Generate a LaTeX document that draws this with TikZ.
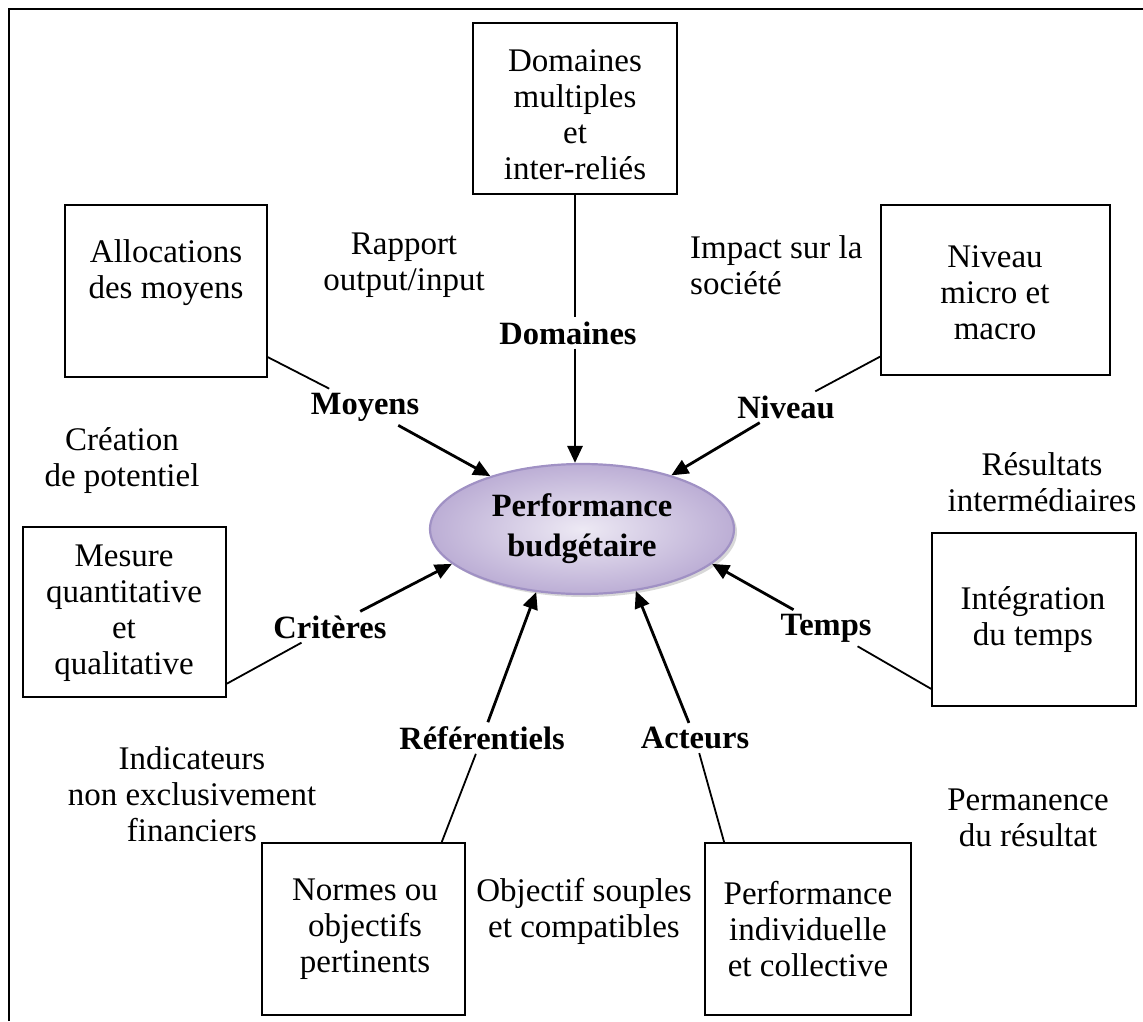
\documentclass[tikz,border=0pt]{standalone}
\usepackage{fontspec}
\setmainfont{Liberation Serif}
\usetikzlibrary{arrows.meta,shapes.geometric,shadows}

\definecolor{ellfill}{RGB}{237,233,244}
\definecolor{elledge}{RGB}{188,174,213}
\definecolor{ellline}{RGB}{160,145,196}

\begin{document}
\begin{tikzpicture}[x=1pt,y=-1pt,
  every node/.style={font=\fontsize{33}{36}\selectfont, align=center, inner sep=0pt},
  box/.style={draw, line width=1.7pt},
  lab/.style={font=\fontsize{32.5}{36}\selectfont\bfseries, inner sep=4pt},
  lnk/.style={line width=1.8pt},
  arr/.style={line width=2.8pt, -{Triangle[length=17pt,width=15pt]}}]

\useasboundingbox (0,0) rectangle (1143,1021);

% outer frame (open at the bottom and on the right)
\draw[line width=2.8pt] (9,1021) -- (9,9) -- (1143,9);

% central ellipse
\node[ellipse, minimum width=304pt, minimum height=130pt, draw=ellline, line width=2.2pt,
      inner color=ellfill, outer color=elledge,
      drop shadow={shadow xshift=3pt, shadow yshift=-3pt, fill=black!30},
      font=\fontsize{32.5}{40}\selectfont\bfseries] (perf) at (582,529) {Performance\\budgétaire};

% surrounding boxes
\node[box, minimum width=204pt, minimum height=171pt] (bDom) at (575,108.5) {};
\node (tDom) at (575,115) {Domaines\\multiples\\et\\inter-reliés};

\node[box, minimum width=202pt, minimum height=172pt] (bAll) at (166,291) {};
\node (tAll) at (166,272.5) {Allocations\\des moyens};

\node[box, minimum width=229pt, minimum height=170pt] (bNiv) at (995.5,290) {};
\node (tNiv) at (995,293) {Niveau\\micro et\\macro};

\node[box, minimum width=203pt, minimum height=170pt] (bMes) at (124.5,612) {};
\node (tMes) at (124,613.5) {Mesure\\quantitative\\et\\qualitative};

\node[box, minimum width=204pt, minimum height=173pt] (bInt) at (1034,619.5) {};
\node (tInt) at (1033,620) {Intégration\\du temps};

\node[box, minimum width=203pt, minimum height=172pt] (bNor) at (363.5,929) {};
\node (tNor) at (365,929) {Normes ou\\objectifs\\pertinents};

\node[box, minimum width=206pt, minimum height=172pt] (bAct) at (808,929) {};
\node (tAct) at (808,929) {Performance\\individuelle\\et collective};

% free comments
\node (cRap) at (404,265.5) {Rapport\\output/input};
\node[align=left, anchor=west] (cImp) at (690,265.5) {Impact sur la\\société};
\node (cCre) at (122,460.5) {Création\\de potentiel};
\node (cRes) at (1042,482.5) {Résultats\\intermédiaires};
\node (cInd) at (192,794.5) {Indicateurs\\non exclusivement\\financiers};
\node (cPer) at (1028,818) {Permanence\\du résultat};
\node (cObj) at (584,911) {Objectif souples\\et compatibles};

% dimension labels
\node[lab] (lDom) at (568,333) {Domaines};
\node[lab] (lMoy) at (365,407) {Moyens};
\node[lab] (lNiv) at (786,407) {Niveau};
\node[lab] (lCri) at (330,627) {Critères};
\node[lab] (lTem) at (826,628) {Temps};
\node[lab] (lRef) at (482,738) {Référentiels};
\node[lab] (lAct) at (695,738) {Acteurs};

% box -> label links
\draw[lnk] (bDom.south) -- (bDom.south |- lDom.north);
\draw[lnk] (bAll.-33) -- (lMoy);
\draw[lnk] (bNiv.210) -- (lNiv);
\draw[lnk] (bMes.-35) -- (lCri);
\draw[lnk] (bInt.214) -- (lTem);
\draw[lnk] (bNor.48) -- (lRef);
\draw[lnk] (bAct.134) -- (lAct);

% label -> ellipse arrows
\draw[arr] (bDom.south |- lDom.south) -- (bDom.south |- perf.north);
\draw[arr] (lMoy) -- (perf.150);
\draw[arr] (lNiv) -- (perf.31);
\draw[arr] (lCri) -- (perf.195);
\draw[arr] (lTem) -- (perf.345);
\draw[arr] (lRef) -- (perf.234);
\draw[arr] (lAct) -- (perf.311);
\end{tikzpicture}
\end{document}
